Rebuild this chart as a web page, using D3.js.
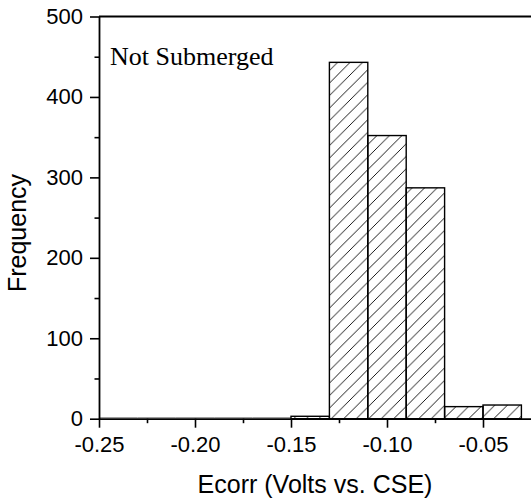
<!DOCTYPE html>
<html>
<head>
<meta charset="utf-8">
<script src="https://cdn.jsdelivr.net/npm/d3@7"></script>
<style>
  html, body { margin: 0; padding: 0; background: #fff; }
  svg { display: block; }
</style>
</head>
<body>
<svg id="chart" width="531" height="503"></svg>
<script>
// Histogram bins of corrosion potential (left edge, volts) and their counts
const binStarts = [-0.25, -0.23, -0.21, -0.19, -0.17, -0.15, -0.13, -0.11, -0.09, -0.07, -0.05];
const binWidth = 0.02;
const counts = [0, 0, 0, 0, 0, 3, 443, 352, 287, 15, 17];

const xMajorTicks = [-0.25, -0.20, -0.15, -0.10, -0.05];
const xMinorTicks = [-0.225, -0.175, -0.125, -0.075];
const yMajorTicks = [0, 100, 200, 300, 400, 500];
const yMinorTicks = [50, 150, 250, 350, 450];

const xTitle = "Ecorr (Volts vs. CSE)";
const yTitle = "Frequency";
const note = "Not Submerged";

const svg = d3.select("#chart");
const plotL = 99, plotR = 531, plotT = 16.5, plotB = 418.7;

const x = d3.scaleLinear().domain([-0.25, -0.025]).range([plotL, plotR]);
const y = d3.scaleLinear().domain([0, 500]).range([plotB, plotT]);

// diagonal hatch fill
const defs = svg.append("defs");
const p = 12.5;
const pat = defs.append("pattern")
  .attr("id", "hatch")
  .attr("patternUnits", "userSpaceOnUse")
  .attr("width", p).attr("height", p);
pat.append("path")
  .attr("d", `M0,${p} L${p},0 M${-p/2},${p/2} L${p/2},${-p/2} M${p/2},${p*1.5} L${p*1.5},${p/2}`)
  .attr("stroke", "#000").attr("stroke-width", 0.9).attr("fill", "none");

const bins = binStarts.map((s, i) => ({ x0: s, x1: s + binWidth, n: counts[i] }));

// empty bins show only as a faint outline on the baseline
svg.append("g").selectAll("path")
  .data(bins.filter(d => d.n === 0))
  .join("path")
  .attr("d", d => `M${x(d.x0)},${y(0) - 1}H${x(d.x1)}`)
  .attr("stroke", "#888").attr("stroke-width", 1).attr("fill", "none");

svg.append("g").selectAll("rect")
  .data(bins.filter(d => d.n > 0))
  .join("rect")
  .attr("x", d => x(d.x0))
  .attr("y", d => y(d.n))
  .attr("width", d => x(d.x1) - x(d.x0))
  .attr("height", d => y(0) - y(d.n))
  .attr("fill", "url(#hatch)")
  .attr("stroke", "#000")
  .attr("stroke-width", 1.4);

// top frame line
svg.append("line").attr("x1", plotL).attr("x2", plotR).attr("y1", plotT).attr("y2", plotT)
  .attr("stroke", "#000").attr("stroke-width", 1.8);

const font = "'Liberation Sans', Arial, sans-serif";

// x axis
const xAxis = d3.axisBottom(x).tickValues(xMajorTicks)
  .tickFormat(d => d3.format(".2f")(d).replace("\u2212", "-"))
  .tickSize(9).tickSizeOuter(0).tickPadding(8.5);
const gx = svg.append("g").attr("transform", `translate(0,${plotB})`).call(xAxis);
gx.select(".domain").attr("stroke-width", 1.8);
gx.selectAll(".tick line").attr("stroke-width", 1.6);
gx.selectAll("text").attr("font-family", font).attr("font-size", 22).attr("fill", "#000");
svg.append("g").attr("transform", `translate(0,${plotB})`)
  .call(d3.axisBottom(x).tickValues(xMinorTicks).tickFormat("").tickSize(4.5).tickSizeOuter(0))
  .call(g => g.select(".domain").remove())
  .selectAll(".tick line").attr("stroke-width", 1.6);

// y axis
const yAxis = d3.axisLeft(y).tickValues(yMajorTicks).tickSize(9).tickSizeOuter(0).tickPadding(7);
const gy = svg.append("g").attr("transform", `translate(${plotL},0)`).call(yAxis);
gy.select(".domain").attr("stroke-width", 1.8);
gy.selectAll(".tick line").attr("stroke-width", 1.6);
gy.selectAll("text").attr("font-family", font).attr("font-size", 22).attr("fill", "#000");
svg.append("g").attr("transform", `translate(${plotL},0)`)
  .call(d3.axisLeft(y).tickValues(yMinorTicks).tickFormat("").tickSize(4.5).tickSizeOuter(0))
  .call(g => g.select(".domain").remove())
  .selectAll(".tick line").attr("stroke-width", 1.6);

// titles
svg.append("text").attr("x", 315).attr("y", 493)
  .attr("text-anchor", "middle").attr("font-family", font).attr("font-size", 25)
  .text(xTitle);
svg.append("text").attr("transform", `translate(26,233) rotate(-90)`)
  .attr("text-anchor", "middle").attr("font-family", font).attr("font-size", 25)
  .text(yTitle);

svg.append("text").attr("x", 110).attr("y", 65)
  .attr("font-family", "'Liberation Serif', 'Times New Roman', serif").attr("font-size", 26)
  .text(note);
</script>
</body>
</html>
